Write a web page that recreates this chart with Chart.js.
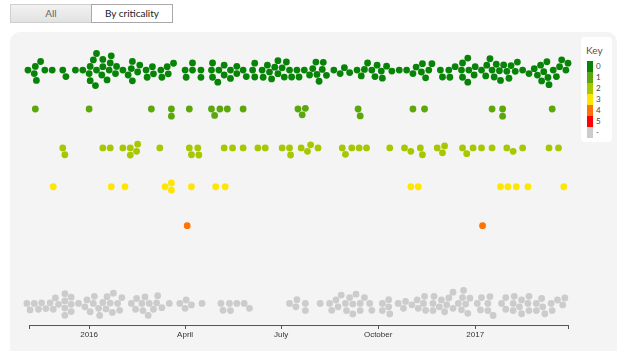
<!DOCTYPE html>
<html>
<head>
<meta charset="utf-8">
<script src="https://cdn.jsdelivr.net/npm/chart.js@4/dist/chart.umd.min.js"></script>
<style>
body{margin:0;background:#fff;font-family:Lato,"Open Sans",sans-serif;}
#wrap{position:relative;width:620px;height:351px;overflow:hidden;}
.btn{position:absolute;top:4px;height:19px;line-height:17px;font-size:10px;text-align:center;box-sizing:border-box;}
#all{left:10px;width:82px;background:linear-gradient(#f2f2f2,#e2e2e2);border:1px solid #cfcfcf;color:#666;}
#crit{left:91px;width:82px;background:#fff;border:1px solid #a8a8a8;color:#222;}
#panel{position:absolute;left:10px;top:32px;width:607px;height:340px;background:#f4f4f4;border-radius:10px;}
#key{position:absolute;left:581px;top:37px;width:31px;height:105px;background:#fff;border-radius:4px;font-size:10px;color:#555;}
#key .t{position:absolute;left:5px;top:7px;}
#key .sw{position:absolute;left:6px;width:6px;height:11px;}
#key .lb{position:absolute;left:15px;font-size:8px;line-height:11px;color:#444;}
canvas{position:absolute;left:0;top:0;}
</style>
</head>
<body>
<div id="wrap">
  <div class="btn" id="all">All</div>
  <div class="btn" id="crit">By criticality</div>
  <div id="panel"></div>
  <canvas id="myChart" width="620" height="351"></canvas>
  <div id="key"><div class="t">Key</div></div>
</div>
<script>
// rows of the swarm, top to bottom
const rowLabels = ['0', '1', '2', '3', '4', '5', '-'];
const rowColors = ['#078407', '#5ca80c', '#a9c700', '#ffe600', '#ff7300', '#ff0000', '#cccccc'];

// x axis: days counted from 1 Jan 2016
const xMin = -57, xMax = 454;
const tickDays = [0, 91, 182, 274, 366];
const tickLabels = ['2016', 'April', 'July', 'October', '2017'];

// event dates (days from 1 Jan 2016) per criticality
const row0 = [-58,-52,-51,-50,-46,-42,-35,-25,-22,-13,-6,0,1,1,4,6,7,7,12,13,13,17,19,20,21,25,26,32,37,40,41,41,46,48,54,55,60,61,68,69,74,75,80,91,92,98,98,106,106,
  116,117,117,122,123,128,128,134,134,140,140,146,149,155,157,157,164,165,169,171,173,176,179,179,183,185,187,190,192,197,199,204,209,212,215,216,218,221,222,225,232,238,242,247,254,258,261,264,268,271,273,277,278,282,287,
  294,301,307,310,315,316,319,322,325,333,335,341,342,347,353,354,354,359,360,359,365,366,372,376,377,380,384,382,386,389,390,393,396,398,400,404,406,411,417,422,425,429,431,434,435,428,436,440,443,446,448,452,454];
const row1 = [-51,0,59,78,78,95,116,119,124,131,146,198,202,205,255,257,307,318,382,392,392,439];
const row2 = [-25,-23,13,20,32,39,39,45,46,67,95,97,103,104,128,136,146,160,167,183,190,191,201,207,210,217,240,243,249,256,263,285,299,305,314,316,330,335,337,354,358,364,372,382,396,402,411,436,445];
const row3 = [-34,21,34,72,78,78,97,120,129,305,312,390,397,405,416,450];
const row4 = [93,373];
const row5 = [];
const rowNone = [-59,-56,-52,-48,-45,-41,-37,-34,-32,-29,-23,-23,-23,-23,-17,-17,-17,-10,-4,-2,1,4,5,9,10,13,16,17,20,22,23,27,29,31,40,44,45,50,51,53,56,57,61,64,65,69,76,86,91,92,97,107,125,127,133,134,140,147,152,
  190,196,197,205,205,219,228,230,234,236,239,243,244,247,250,250,253,257,257,261,266,268,278,278,284,284,285,293,298,300,306,311,312,317,318,319,326,326,327,332,334,337,339,341,345,345,350,353,354,355,357,359,361,
  368,371,372,378,378,380,383,391,395,395,402,402,403,408,410,410,416,417,417,424,424,429,430,432,438,439,444,449,451];
const rows = [row0, row1, row2, row3, row4, row5, rowNone];

// key box
var key = document.getElementById('key');
for (let i = 0; i < rowLabels.length; i++) {
  key.innerHTML += '<div class="sw" style="top:' + (24 + i * 11) + 'px;background:' + rowColors[i] + '"></div>' +
    '<div class="lb" style="top:' + (24 + i * 11) + 'px">' + rowLabels[i] + '</div>';
}

const datasets = rows.map(function (days, r) {
  return {
    label: rowLabels[r],
    data: days.map(d => ({ x: d, y: r })),
    backgroundColor: rowColors[r],
    borderWidth: 0,
    pointRadius: 3.4,
    pointHoverRadius: 3.4
  };
});

const ctx = document.getElementById('myChart').getContext('2d');
const myChart = new Chart(ctx, {
  type: 'scatter',
  data: { datasets: datasets },
  options: {
    responsive: false,
    animation: false,
    events: [],
    layout: { padding: { left: 29, right: 52, top: 39, bottom: 0 } },
    plugins: { legend: { display: false }, tooltip: { enabled: false } },
    scales: {
      x: {
        type: 'linear', min: xMin, max: xMax,
        afterBuildTicks: function (s) { s.ticks = [xMin].concat(tickDays, [xMax]).map(v => ({ value: v })); },
        afterFit: function (s) { s.height = 26; },
        ticks: {
          autoSkip: false, maxRotation: 0, padding: 1, color: '#333',
          font: { size: 8, family: 'Liberation Sans' },
          callback: function (v) { var i = tickDays.indexOf(v); return i < 0 ? '' : tickLabels[i]; }
        },
        grid: { drawOnChartArea: false, drawTicks: true, tickLength: 4, color: '#555' },
        border: { color: '#555', width: 1 }
      },
      y: { display: false, min: -0.8, max: 6.555, reverse: true }
    },
    clip: false
  }
});

// beeswarm: push each dot up/down until it no longer overlaps
function swarm(chart) {
  const xs = chart.scales.x, ys = chart.scales.y;
  const D = 7.2;
  chart.data.datasets.forEach(function (ds, r) {
    const pts = ds.data.map(p => ({ p: p, px: xs.getPixelForValue(p.x), off: 0 }))
      .sort((a, b) => a.px - b.px);
    const placed = [];
    pts.forEach(function (q) {
      const cands = [0];
      placed.forEach(function (o) {
        const dx = q.px - o.px;
        if (Math.abs(dx) < D) {
          const h = Math.sqrt(D * D - dx * dx);
          cands.push(o.off + h, o.off - h);
        }
      });
      cands.sort((a, b) => Math.abs(a) - Math.abs(b));
      for (const c of cands) {
        const ok = placed.every(function (o) {
          const dx = q.px - o.px, dy = c - o.off;
          return dx * dx + dy * dy >= D * D - 0.01;
        });
        if (ok) { q.off = c; break; }
      }
      placed.push(q);
    });
    const rowPx = ys.getPixelForValue(r);
    pts.forEach(q => { q.p.y = ys.getValueForPixel(rowPx + q.off); });
  });
  chart.update('none');
}
swarm(myChart);
</script>
</body>
</html>
